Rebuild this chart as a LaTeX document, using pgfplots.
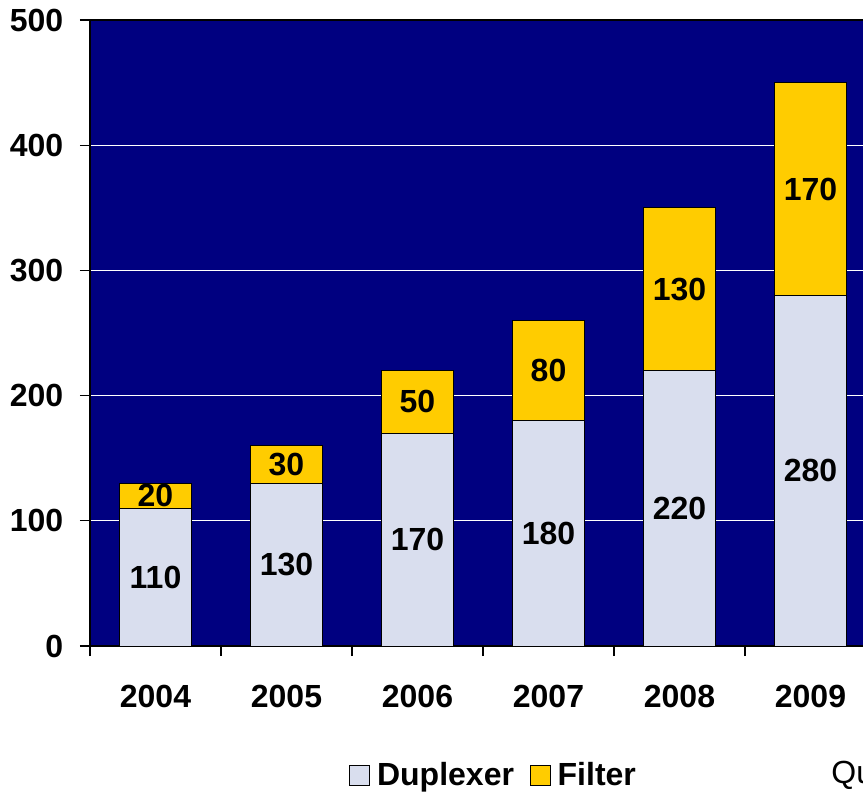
\documentclass[border=0pt]{standalone}
\usepackage{fontspec}
\setmainfont{Liberation Sans}
\usepackage{pgfplots}
\pgfplotsset{compat=1.18}
\usepackage{pgfplotstable}

\definecolor{plotnavy}{RGB}{0,0,128}
\definecolor{duplexer}{RGB}{217,222,238}
\definecolor{filter}{RGB}{255,204,0}

% Sales per year, split into duplexers and filters
\pgfplotstableread{
x year dup filt
0 2004 110 20
1 2005 130 30
2 2006 170 50
3 2007 180 80
4 2008 220 130
5 2009 280 170
}\sales

\newcommand\bigbold{\fontsize{24}{28}\selectfont\bfseries}

\begin{document}
\begin{tikzpicture}
\begin{axis}[
  name=ax,
  scale only axis,
  width=589.5pt, height=469.5pt,
  xmin=-0.5, xmax=5.5, ymin=0, ymax=500,
  ybar stacked, bar width=0.55,
  axis background/.style={fill=plotnavy},
  axis line style={black, line width=1pt},
  ytick={0,100,...,500},
  xtick={0,...,5},
  xticklabels={2004,2005,2006,2007,2008,2009},
  minor xtick={-0.5,0.5,...,5.5},
  xtick pos=bottom, ytick pos=left,
  tick align=outside,
  major tick length=7.5pt,
  minor tick length=7.5pt,
  tick style={black, line width=1pt},
  every major x tick/.style={draw=none},
  ymajorgrids,
  major grid style={white, line width=1pt},
  /pgf/number format/assume math mode=true,
  ticklabel style={font=\bigbold},
  yticklabel style={xshift=-9pt},
  xticklabel style={yshift=-18pt},
  legend style={at={(0.5140,0)}, anchor=center, yshift=-96.75pt,
    draw=none, fill=none, font=\bigbold,
    /tikz/every odd column/.append style={column sep=3pt},
    /tikz/every even column/.append style={column sep=10pt}},
  legend columns=2,
  legend image code/.code={\draw[#1, draw=black, line width=0.75pt] (0pt,-7.5pt) rectangle (15pt,7.5pt);},
  nodes near coords,
  point meta=explicit,
  every node near coord/.append style={font=\bigbold, anchor=center, text=black},
]
\addplot[fill=duplexer, draw=black, line width=0.75pt]
  table[x=x, y=dup, meta=dup] {\sales};
\addlegendentry{Duplexer}
\addplot[fill=filter, draw=black, line width=0.75pt]
  table[x=x, y=filt, meta=filt] {\sales};
\addlegendentry{Filter}
\end{axis}
\node[anchor=west, font=\fontsize{24}{28}\selectfont]
  at ([xshift=552.5pt, yshift=-96.75pt]ax.south west) {Quelle:};
\pgfresetboundingbox
\path[use as bounding box] ([xshift=-67.5pt, yshift=-109.5pt]ax.south west)
  rectangle ([xshift=579.75pt, yshift=484.5pt]ax.south west);
\end{tikzpicture}
\end{document}
